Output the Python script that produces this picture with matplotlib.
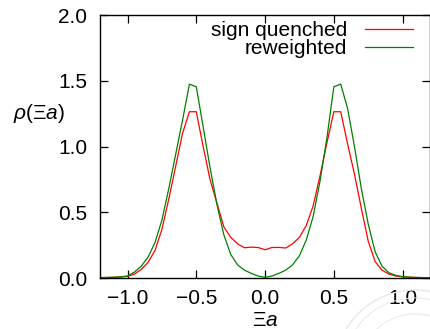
import numpy as np
import matplotlib
matplotlib.use("Agg")
import matplotlib.pyplot as plt
from matplotlib.patches import Circle

plt.rcParams['font.family'] = ['Liberation Sans', 'DejaVu Sans']
plt.rcParams['mathtext.fontset'] = 'custom'
plt.rcParams['mathtext.rm'] = 'Liberation Sans'
plt.rcParams['mathtext.it'] = 'Liberation Sans:italic'

# x grid (Xi a) and the two densities
xi_a = np.round(np.arange(-1.2, 1.2001, 0.05), 2)

rho_quenched = [0.003, 0.004, 0.005, 0.008, 0.012, 0.03, 0.065, 0.12, 0.21, 0.37,
                0.60, 0.85, 1.10, 1.265, 1.265, 1.00, 0.75, 0.57, 0.39, 0.31,
                0.26, 0.23, 0.235, 0.232, 0.215, 0.232, 0.233, 0.228, 0.26, 0.31,
                0.40, 0.55, 0.78, 1.03, 1.265, 1.265, 1.02, 0.79, 0.53, 0.28,
                0.125, 0.06, 0.03, 0.015, 0.01, 0.006, 0.004, 0.003, 0.002]

rho_reweighted = [0.003, 0.004, 0.006, 0.009, 0.015, 0.045, 0.09, 0.16, 0.27, 0.44,
                  0.68, 0.94, 1.20, 1.475, 1.455, 1.15, 0.84, 0.56, 0.33, 0.18,
                  0.10, 0.06, 0.035, 0.015, 0.005, 0.015, 0.035, 0.06, 0.10, 0.17,
                  0.29, 0.47, 0.74, 1.07, 1.455, 1.475, 1.29, 1.00, 0.68, 0.41,
                  0.20, 0.09, 0.04, 0.02, 0.01, 0.006, 0.004, 0.003, 0.002]

xticks = [-1.0, -0.5, 0.0, 0.5, 1.0]
yticks = [0.0, 0.5, 1.0, 1.5, 2.0]

FS = 15

fig = plt.figure(figsize=(4.31, 3.29), dpi=100)
ax = fig.add_axes([0.232, 0.155, 0.766, 0.799])

# faint seal watermark in the corner (inch coordinates so it stays round)
for r, lw in [(0.80, 1.0), (0.72, 0.7), (0.56, 0.7)]:
    fig.patches.append(Circle((4.15, -0.41), r, transform=fig.dpi_scale_trans,
                              fill=False, ec='#e8e8e8', lw=lw, zorder=0))

ax.plot(xi_a, rho_quenched, color='#ff0000', lw=0.9, label='sign quenched')
ax.plot(xi_a, rho_reweighted, color='#008000', lw=0.9, label='reweighted')

ax.set_xlim(-1.2, 1.2)
ax.set_ylim(0, 2.0)
ax.set_xticks(xticks)
ax.set_yticks(yticks)
ax.set_xticklabels(['%.1f' % v if v >= 0 else '\u2212%.1f' % -v for v in xticks])
ax.set_yticklabels(['%.1f' % v for v in yticks])
ax.tick_params(direction='in', top=True, right=True, length=6, width=0.9,
               labelsize=FS)
ax.tick_params(axis='x', pad=8)
ax.tick_params(axis='y', pad=9)
for s in ax.spines.values():
    s.set_linewidth(1.0)
ax.patch.set_alpha(0)

ax.set_xlabel(r'$\Xi a$', fontsize=FS, labelpad=2)
ax.set_ylabel(r'$\rho(\Xi a)$', fontsize=FS, rotation=0, va='center', ha='center')
ax.yaxis.set_label_coords(-0.185, 0.625)

ax.legend(loc='upper right', markerfirst=False, frameon=False, fontsize=FS,
          handlelength=2.3, handletextpad=0.85, labelspacing=-0.05,
          borderaxespad=0.0, bbox_to_anchor=(0.972, 1.01))

fig.savefig('out.png', dpi=100)
